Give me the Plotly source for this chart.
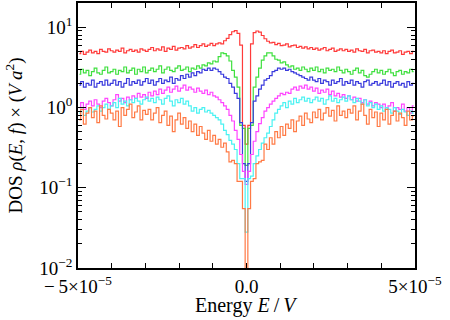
import numpy as np
import plotly.graph_objects as go

# bin centres, 0.8e-6 wide bins spanning -5e-5 .. 5e-5
energy = np.arange(-62, 63) * 0.8e-6

red = [4.7,5.0,4.6,4.9,5.2,4.8,5.0,4.7,5.3,5.0,4.9,5.4,5.1,
       4.9,5.2,5.0,5.5,4.8,5.1,5.3,5.0,5.2,4.9,5.4,5.2,5.0,
       5.3,5.6,5.1,5.4,5.2,5.7,5.0,5.5,5.3,5.8,5.2,5.5,5.6,
       5.4,5.9,5.5,5.7,6.1,5.6,5.9,6.2,5.8,6.0,6.3,5.9,6.2,
       6.4,6.2,6.8,7.3,8.1,8.8,9.1,
       8.4,6.0,0.6,0.35,0.6,6.2,8.6,
       9.0,8.7,7.9,7.2,6.7,6.4,6.5,
       6.1,6.3,5.9,6.0,6.2,5.7,5.9,6.0,5.6,5.8,5.5,5.7,5.4,
       5.6,5.3,5.5,5.2,5.4,5.6,5.1,5.3,5.5,5.0,5.2,5.4,5.1,
       5.3,5.0,5.2,4.9,5.4,5.1,5.0,5.3,4.8,5.1,5.2,4.9,5.0,
       4.8,5.1,4.7,5.0,5.2,4.8,4.9,5.1,4.6,4.9,5.0,4.7,5.0]

green = [2.6,3.0,2.7,2.9,2.5,2.8,3.1,2.7,2.6,2.9,3.2,2.7,2.8,
         3.0,2.6,2.9,2.8,3.2,2.7,2.9,3.1,2.6,3.0,2.8,3.2,2.7,
         2.9,3.1,2.8,3.0,3.3,2.7,3.0,3.2,2.9,2.8,3.1,3.3,2.9,
         3.0,3.2,2.8,3.1,3.0,3.3,3.1,3.4,3.3,3.6,3.5,3.8,3.7,
         4.3,4.8,4.7,4.4,3.8,2.9,2.4,
         1.8,0.6,0.55,0.19,0.55,0.6,1.8,
         2.4,3.1,3.9,4.4,4.8,4.8,4.4,
         4.0,3.9,3.6,3.7,3.4,3.2,3.3,3.0,3.1,2.9,3.2,3.0,2.8,
         3.1,2.9,3.2,2.8,3.0,2.7,3.1,2.9,3.0,2.8,3.2,2.9,2.7,
         3.0,2.8,2.6,2.9,3.1,2.7,2.9,2.5,2.4,2.6,2.8,3.0,2.7,
         2.9,2.6,2.8,3.0,2.7,2.5,2.8,2.9,2.6,2.8,2.7,3.0,2.8]

blue = [1.9,2.1,1.8,2.0,1.9,2.2,1.8,2.0,2.1,1.9,2.2,1.9,2.0,
        2.2,1.9,2.1,1.8,2.0,2.3,1.9,2.1,2.0,2.2,1.9,2.1,2.3,
        2.0,2.2,1.9,2.1,2.3,2.0,2.2,2.1,2.4,2.0,2.3,2.2,2.5,
        2.3,2.6,2.4,2.7,2.5,2.8,2.7,3.0,2.9,3.1,2.9,3.1,3.0,
        2.8,2.6,2.4,2.3,2.0,1.8,1.5,
        1.3,0.65,0.2,0.12,0.2,0.65,1.2,
        1.4,1.7,1.9,2.2,2.3,2.5,2.8,
        2.9,3.1,3.0,3.1,2.9,3.0,2.8,2.7,2.6,2.5,2.4,2.3,2.2,
        2.4,2.2,2.1,2.3,2.0,2.2,2.1,1.9,2.2,2.0,2.1,2.3,1.9,
        2.1,2.0,2.2,1.9,2.1,2.0,1.8,2.1,2.2,1.9,2.0,2.1,1.9,
        2.0,2.2,1.9,2.1,1.8,2.0,2.1,1.9,2.0,1.8,2.1,1.9,2.0]

magenta = [1.0,1.15,0.95,1.1,1.2,1.05,1.25,1.1,1.0,1.2,1.3,1.15,1.05,
           1.25,1.45,1.2,1.3,1.15,1.35,1.25,1.4,1.3,1.5,1.35,1.45,1.3,
           1.55,1.4,1.6,1.45,1.7,1.5,1.65,1.8,1.55,1.7,1.85,1.6,1.75,
           1.9,1.65,1.8,1.7,1.55,1.75,1.6,1.5,1.65,1.45,1.55,1.4,1.35,
           1.25,1.15,1.05,0.95,0.8,0.68,0.52,
           0.4,0.26,0.16,0.11,0.16,0.26,0.38,
           0.5,0.63,0.75,0.9,1.0,1.1,1.2,
           1.3,1.4,1.5,1.45,1.55,1.5,1.7,1.8,1.65,1.85,1.75,1.9,1.7,
           1.8,1.6,1.75,1.5,1.65,1.55,1.7,1.45,1.6,1.4,1.5,1.35,1.45,
           1.3,1.4,1.25,1.35,1.2,1.3,1.15,1.25,1.1,1.2,1.05,1.15,1.1,
           1.0,1.1,0.95,1.05,1.15,0.9,1.0,0.95,1.1,0.9,1.0,0.85,1.05]

cyan = [0.85,0.95,0.8,0.9,1.0,0.88,0.95,1.05,0.9,1.0,1.1,0.95,1.05,
        1.15,1.0,1.3,1.1,1.2,1.05,1.25,1.15,1.3,1.2,1.1,1.25,1.35,
        1.2,1.3,1.15,1.35,1.25,1.1,1.3,1.4,1.2,1.05,1.25,1.15,1.3,
        1.1,1.2,1.05,0.9,1.0,0.85,0.95,1.0,0.88,0.92,0.85,0.8,0.75,
        0.7,0.62,0.52,0.46,0.39,0.35,0.3,
        0.2,0.13,0.13,0.028,0.13,0.14,0.2,
        0.25,0.3,0.36,0.42,0.48,0.58,0.7,
        0.85,0.95,1.05,1.15,1.0,1.2,1.1,1.3,1.15,1.25,1.35,1.2,1.3,
        1.15,1.25,1.35,1.2,1.3,1.1,1.25,1.4,1.2,1.3,1.15,1.25,1.35,
        1.2,1.4,1.25,1.15,1.3,1.2,1.1,1.25,1.05,1.15,1.0,1.1,0.95,
        1.05,0.9,1.0,0.95,0.85,1.0,0.9,0.82,0.95,0.88,0.8,0.9,0.85]

orange = [0.7,0.95,0.62,0.85,1.0,0.75,0.9,0.65,1.05,0.8,0.72,0.95,0.85,
          0.7,0.9,0.58,1.0,0.8,0.95,1.1,0.75,0.88,1.05,0.7,0.92,0.82,
          0.95,0.7,0.85,1.0,0.65,0.8,0.9,0.6,0.78,0.5,0.7,0.85,0.62,
          0.75,0.55,0.68,0.5,0.62,0.45,0.58,0.48,0.4,0.52,0.38,0.45,0.35,
          0.4,0.32,0.36,0.28,0.21,0.22,0.2,
          0.12,0.12,0.055,0.004,0.055,0.12,0.13,
          0.2,0.21,0.22,0.35,0.3,0.42,0.35,
          0.5,0.42,0.58,0.45,0.62,0.55,0.7,0.5,0.68,0.78,0.6,0.85,0.72,
          0.65,0.88,0.75,0.95,0.7,0.85,1.0,0.78,0.92,0.68,1.05,0.8,0.9,
          0.75,0.95,0.85,1.05,0.7,0.9,1.1,0.8,0.62,0.95,0.75,0.88,0.58,
          0.85,0.7,0.95,0.62,0.8,0.9,0.68,0.85,0.75,0.6,0.9,0.7,0.78]

series = [(red, "#ff3b3b"), (green, "#3fe03f"), (blue, "#3b3bdd"),
          (magenta, "#ff45ff"), (cyan, "#4af2f2"), (orange, "#ff7a45")]

fig = go.Figure()
for vals, col in series:
    fig.add_trace(go.Scatter(x=energy, y=vals, mode="lines", line_shape="hvh",
                             line=dict(color=col, width=1.2), showlegend=False))

font = "Liberation Serif, Times New Roman, serif"
xt = [-5e-5 + 1e-5 * i for i in range(11)]
xtext = ["" for _ in xt]
xtext[0] = "\u2212\u20095\u00d710<sup>\u22125</sup>"
xtext[5] = "0.0"
xtext[10] = "5\u00d710<sup>\u22125</sup>"

minor_y = [m * 10.0 ** e for e in range(-2, 2) for m in range(2, 10)]

fig.update_layout(
    width=450, height=320,
    margin=dict(l=78, r=35, t=3, b=52),
    paper_bgcolor="white", plot_bgcolor="white",
    font=dict(family=font, size=19, color="black"),
    xaxis=dict(range=[-5e-5, 5e-5], tickvals=xt, ticktext=xtext,
               ticks="inside", ticklen=5, tickwidth=1.2, tickcolor="black",
               showline=True, linecolor="black", linewidth=1.5, mirror="ticks",
               showgrid=False, zeroline=False, automargin=False),
    yaxis=dict(type="log", range=[-2, 1.303],
               tickvals=[0.01, 0.1, 1, 10],
               ticktext=["10<sup>\u22122</sup>", "10<sup>\u22121</sup>",
                         "10<sup>0</sup>", "10<sup>1</sup>"],
               ticks="inside", ticklen=8, tickwidth=1.2, tickcolor="black",
               minor=dict(tickvals=minor_y, ticks="inside", ticklen=4,
                          tickwidth=1, tickcolor="black", showgrid=False),
               showline=True, linecolor="black", linewidth=1.5, mirror="ticks",
               showgrid=False, zeroline=False, automargin=False),
    annotations=[
        dict(text="Energy <i>E</i>\u2009/\u2009<i>V</i>", xref="paper", yref="paper",
             x=0.5, y=-0.14, xanchor="center", yanchor="middle",
             showarrow=False, font=dict(size=20)),
        dict(text="DOS <i>\u03c1</i>(<i>E</i>, <i>f</i>) \u00d7 (<i>V a</i><sup>2</sup>)",
             xref="paper", yref="paper", x=-0.187, y=0.5, textangle=-90,
             xanchor="center", yanchor="middle", showarrow=False,
             font=dict(size=19)),
    ],
)

# page body has a default 8px margin; drop it so the figure sits at 0,0
fig.write_html("out.html", config={"displayModeBar": False},
               post_script="document.body.style.margin='0';")
